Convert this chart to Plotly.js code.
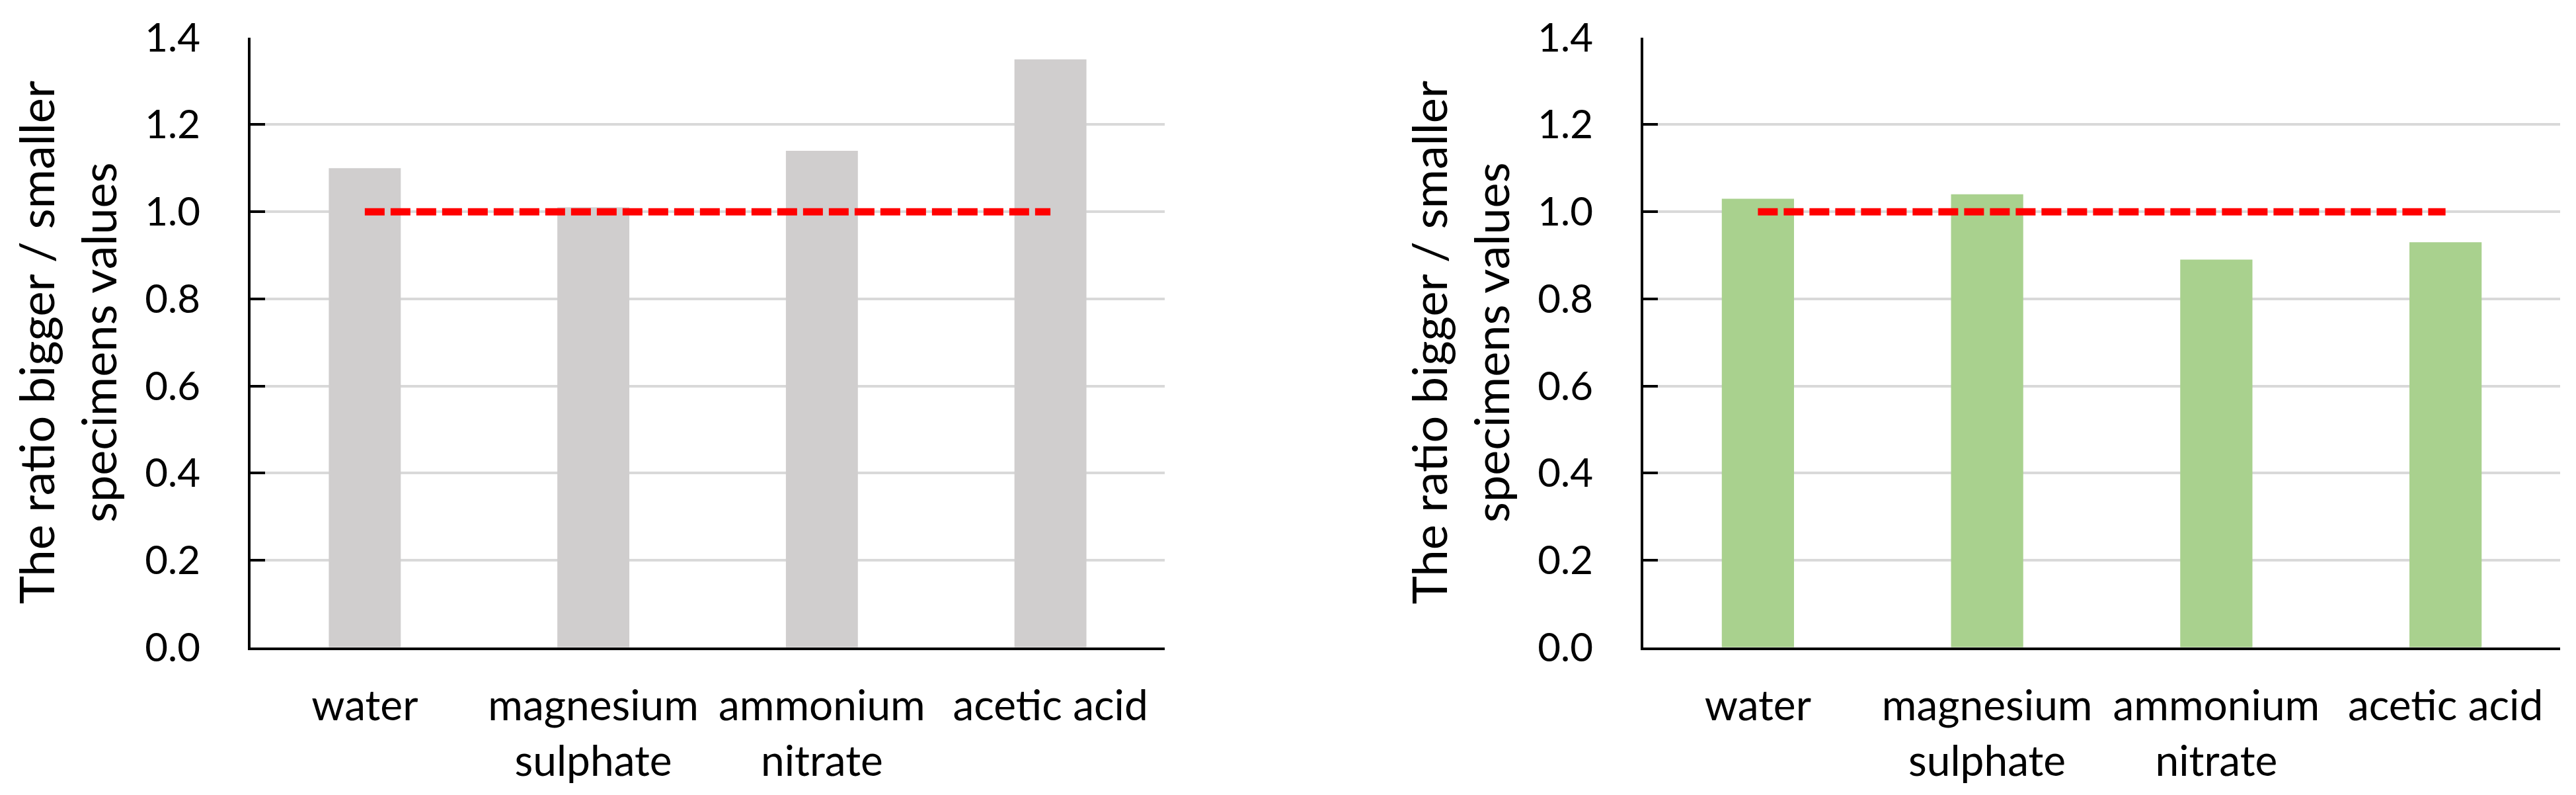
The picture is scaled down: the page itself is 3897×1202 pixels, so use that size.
<!DOCTYPE html>
<html>
<head>
<meta charset="utf-8">
<script src="https://cdn.plot.ly/plotly-3.0.1.min.js"></script>
<style>
  body { margin: 0; background: #fff; }
  #myPlot { width: 3897px; height: 1202px; }
</style>
</head>
<body>
<div id="myPlot"></div>
<script>
// categories on the x axis of both panels
const categories = ['water', 'magnesium<br>sulphate', 'ammonium<br>nitrate', 'acetic acid'];
// left panel (grey bars)
const ratioLeft = [1.10, 1.01, 1.14, 1.35];
// right panel (green bars)
const ratioRight = [1.03, 1.04, 0.89, 0.93];
// red dashed reference level
const refLevel = [1, 1, 1, 1];
const yTicks = [0, 0.2, 0.4, 0.6, 0.8, 1.0, 1.2, 1.4];

const titleText = 'The ratio bigger / smaller<br>specimens values';
const fontFam = 'Lato, "Open Sans", sans-serif';

function barTrace(vals, color, xa, ya) {
  return {
    type: 'bar',
    x: categories,
    y: vals,
    width: 0.315,
    marker: {color: color, line: {width: 0}},
    xaxis: xa, yaxis: ya,
    hoverinfo: 'skip'
  };
}
function refTrace(xa, ya) {
  return {
    type: 'scatter',
    mode: 'lines',
    x: categories,
    y: refLevel,
    line: {color: '#FF0000', width: 11, dash: '30px,9px'},
    xaxis: xa, yaxis: ya,
    hoverinfo: 'skip'
  };
}

const data = [
  barTrace(ratioLeft, '#D0CECE', 'x', 'y'),
  refTrace('x', 'y'),
  barTrace(ratioRight, '#A9D18E', 'x2', 'y2'),
  refTrace('x2', 'y2')
];

function xAxis(dom, anchor) {
  return {
    domain: dom,
    anchor: anchor,
    type: 'category',
    showline: true, linecolor: '#000', linewidth: 4,
    showgrid: false, zeroline: false,
    ticks: '',
    ticklabelstandoff: 30,
    tickfont: {family: fontFam, size: 64, color: '#000'},
    fixedrange: true
  };
}
function yAxis(anchor) {
  return {
    domain: [0.1858, 0.9528],
    anchor: anchor,
    range: [0, 1.4],
    tickvals: yTicks,
    ticktext: yTicks.map(v => v.toFixed(1)),
    showline: true, linecolor: '#000', linewidth: 4,
    ticks: 'inside', ticklen: 22, tickwidth: 4, tickcolor: '#000',
    showgrid: true, gridcolor: '#D9D9D9', gridwidth: 4,
    zeroline: false,
    ticklabelstandoff: 60,
    tickfont: {family: fontFam, size: 60, color: '#000'},
    title: {text: titleText, standoff: 20, font: {family: fontFam, size: 72, color: '#000'}},
    automargin: false,
    fixedrange: true
  };
}

const layout = {
  width: 3897,
  height: 1202,
  margin: {l: 0, r: 0, t: 0, b: 0},
  paper_bgcolor: '#fff',
  plot_bgcolor: '#fff',
  showlegend: false,
  xaxis: xAxis([0.09725, 0.45214], 'y'),
  yaxis: yAxis('x'),
  xaxis2: xAxis([0.63793, 0.99384], 'y2'),
  yaxis2: yAxis('x2')
};

Plotly.newPlot('myPlot', data, layout, {displayModeBar: false, staticPlot: true});
</script>
</body>
</html>
